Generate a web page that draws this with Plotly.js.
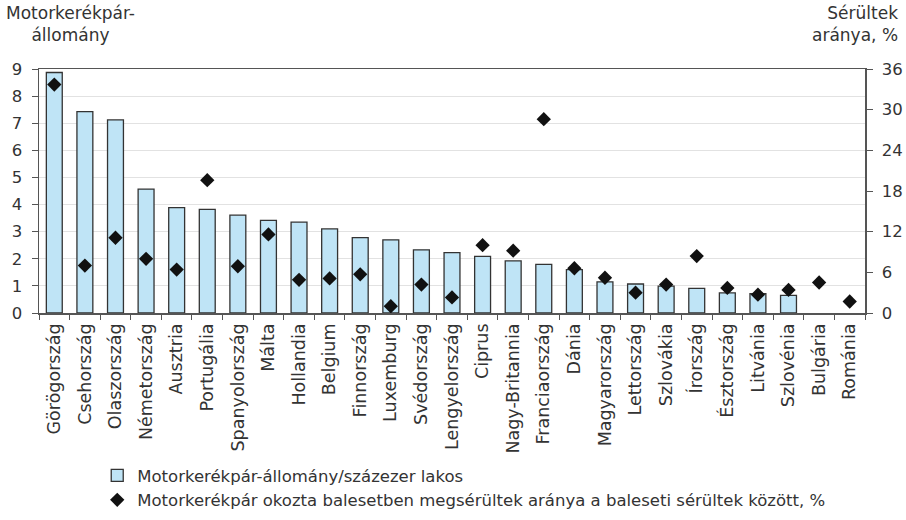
<!DOCTYPE html>
<html>
<head>
<meta charset="utf-8">
<script src="https://cdn.plot.ly/plotly-3.0.1.min.js"></script>
<style>
  html, body { margin: 0; padding: 0; background: #ffffff; }
  #chart { width: 906px; height: 520px; }
</style>
</head>
<body>
<div id="chart"></div>
<script>
// Országok, csökkenő motorkerékpár-állomány szerint
const countries = [
  "Görögország", "Csehország", "Olaszország", "Németország", "Ausztria",
  "Portugália", "Spanyolország", "Málta", "Hollandia", "Belgium",
  "Finnország", "Luxemburg", "Svédország", "Lengyelország", "Ciprus",
  "Nagy-Britannia", "Franciaország", "Dánia", "Magyarország", "Lettország",
  "Szlovákia", "Írország", "Észtország", "Litvánia", "Szlovénia",
  "Bulgária", "Románia"
];

// Motorkerékpár-állomány / százezer lakos (bal tengely)
const fleet = [
  8.87, 7.43, 7.12, 4.57, 3.89,
  3.82, 3.61, 3.42, 3.35, 3.10,
  2.78, 2.70, 2.33, 2.23, 2.09,
  1.92, 1.79, 1.60, 1.15, 1.07,
  0.99, 0.91, 0.74, 0.71, 0.65,
  null, null
];

// Motorkerékpáros sérültek aránya, % (jobb tengely)
const injuredShare = [
  33.7, 7.0, 11.1, 8.0, 6.4,
  19.6, 6.9, 11.6, 4.9, 5.1,
  5.7, 1.0, 4.2, 2.3, 10.0,
  9.2, 28.6, 6.6, 5.2, 3.0,
  4.2, 8.4, 3.7, 2.7, 3.4,
  4.5, 1.7
];

const leftTicks = [0, 1, 2, 3, 4, 5, 6, 7, 8, 9];
const rightTicks = [0, 6, 12, 18, 24, 30, 36];

const legendNames = [
  "Motorkerékpár-állomány/százezer lakos",
  "Motorkerékpár okozta balesetben megsérültek aránya a baleseti sérültek között, %"
];

const textColor = "#333333";
const numFont = { family: "DejaVu Sans, sans-serif", size: 16.5, color: textColor };
const axisLineColor = "#555555";

const traces = [
  {
    type: "bar",
    x: countries,
    y: fleet,
    name: legendNames[0],
    marker: { color: "#bfe4f6", line: { color: "#333333", width: 1.3 } },
    yaxis: "y",
    hoverinfo: "x+y"
  },
  {
    type: "scatter",
    mode: "markers",
    x: countries,
    y: injuredShare,
    name: legendNames[1],
    marker: { symbol: "diamond", size: 11, color: "#111111" },
    yaxis: "y2",
    hoverinfo: "x+y"
  }
];

const layout = {
  width: 906,
  height: 520,
  margin: { l: 39, r: 41, t: 69, b: 207, autoexpand: false },
  paper_bgcolor: "#ffffff",
  plot_bgcolor: "#ffffff",
  bargap: 0.48,
  showlegend: true,
  legend: {
    x: 0.0705, xanchor: "left",
    y: -0.595, yanchor: "top",
    font: { family: "DejaVu Sans, sans-serif", size: 16.5, color: textColor },
    tracegroupgap: 2,
    bgcolor: "rgba(0,0,0,0)"
  },
  xaxis: {
    type: "category",
    range: [-0.5, countries.length - 0.5],
    automargin: false,
    tickangle: -90,
    tickfont: { family: "DejaVu Sans, sans-serif", size: 17.5, color: textColor },
    showline: true,
    linecolor: axisLineColor,
    linewidth: 1.5,
    mirror: true,
    ticks: "outside",
    tickson: "boundaries",
    ticklen: 5,
    tickcolor: axisLineColor,
    ticklabelstandoff: 2,
    showgrid: false,
    fixedrange: true
  },
  yaxis: {
    automargin: false,
    range: [0, 9],
    tickvals: leftTicks,
    ticktext: leftTicks.map(String),
    tickfont: numFont,
    showline: true,
    linecolor: axisLineColor,
    linewidth: 1.5,
    ticks: "outside",
    ticklen: 6,
    tickcolor: axisLineColor,
    ticklabelstandoff: 6,
    showgrid: true,
    gridcolor: "#e2e2e2",
    gridwidth: 1,
    zeroline: false,
    fixedrange: true
  },
  yaxis2: {
    automargin: false,
    range: [0, 36],
    overlaying: "y",
    side: "right",
    tickvals: rightTicks,
    ticktext: rightTicks.map(String),
    tickfont: numFont,
    showline: true,
    linecolor: axisLineColor,
    linewidth: 1.5,
    ticks: "outside",
    ticklen: 6,
    tickcolor: axisLineColor,
    ticklabelstandoff: 6,
    showgrid: false,
    zeroline: false,
    fixedrange: true
  },
  annotations: [
    {
      text: "Motorkerékpár-<br>állomány",
      xref: "paper", yref: "paper",
      x: -0.042, y: 1.279,
      xanchor: "left", yanchor: "top",
      align: "center",
      showarrow: false,
      font: { family: "DejaVu Sans, sans-serif", size: 17, color: textColor }
    },
    {
      text: "Sérültek<br>aránya, %",
      xref: "paper", yref: "paper",
      x: 1.042, y: 1.279,
      xanchor: "right", yanchor: "top",
      align: "right",
      showarrow: false,
      font: { family: "DejaVu Sans, sans-serif", size: 17, color: textColor }
    }
  ]
};

Plotly.newPlot("chart", traces, layout, { displayModeBar: false, staticPlot: true });
</script>
</body>
</html>
